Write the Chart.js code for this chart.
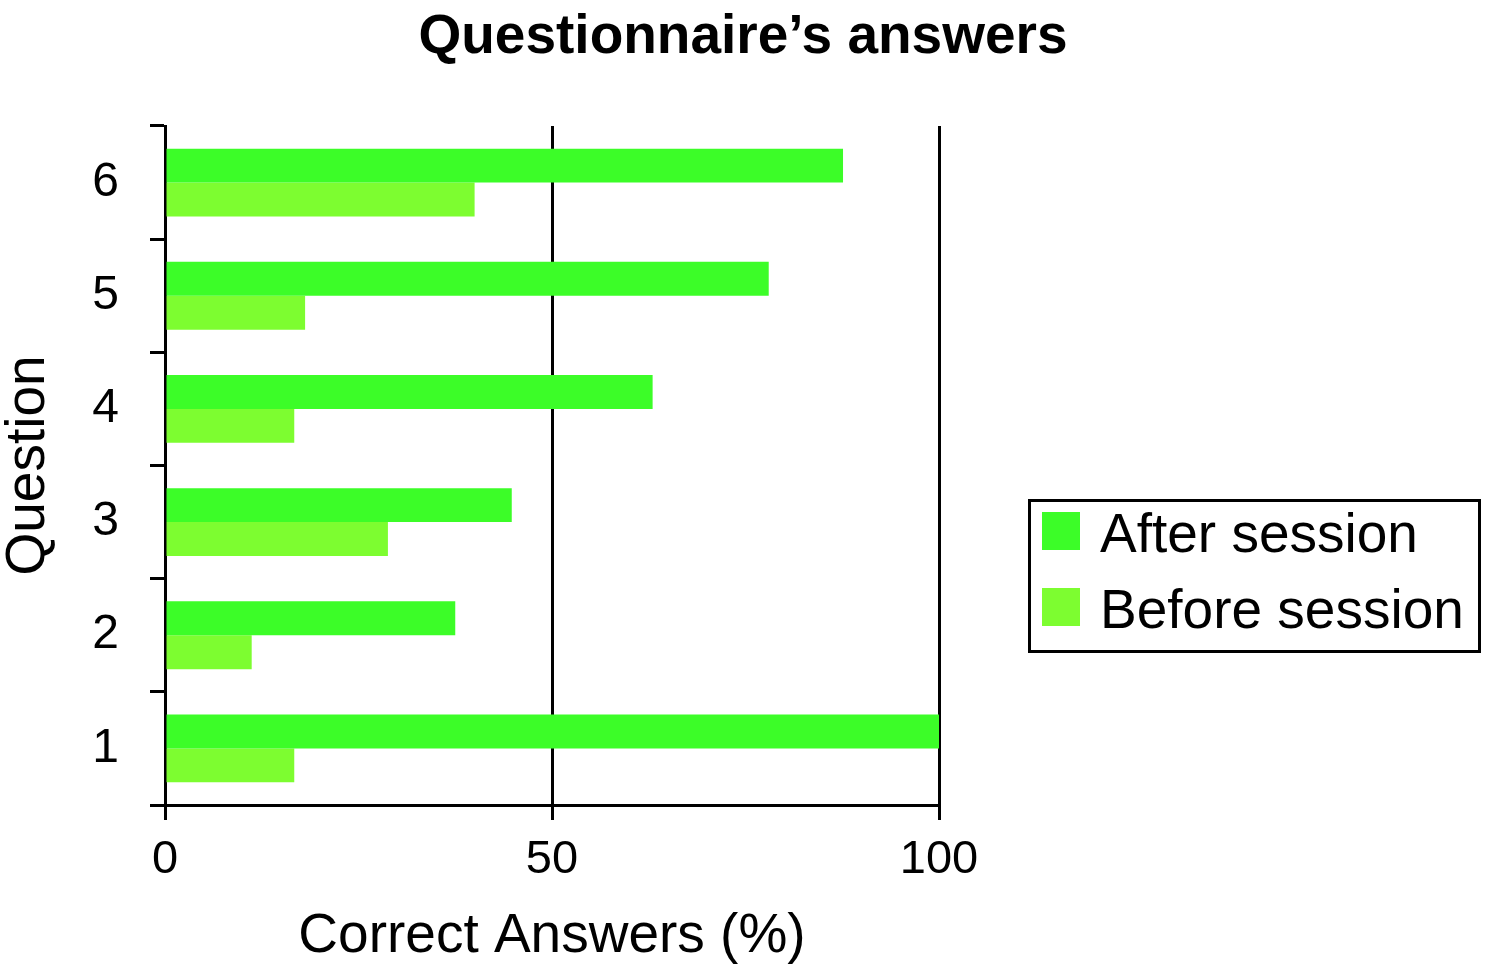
<!DOCTYPE html>
<html>
<head>
<meta charset="utf-8">
<title>Questionnaire's answers</title>
<script src="https://cdn.jsdelivr.net/npm/chart.js@4/dist/chart.umd.min.js"></script>
<style>
	html, body { margin: 0; padding: 0; background: #fff; }
	#wrap { width: 1486px; height: 979px; }
</style>
</head>
<body>
<div id="wrap"><canvas id="questionChart"></canvas></div>
<script>
/* Questionnaire answers - horizontal grouped bars */

const questions = ['6', '5', '4', '3', '2', '1'];
const afterSession = [87.6, 78.0, 63.0, 44.8, 37.5, 100];
const beforeSession = [40.0, 18.1, 16.7, 28.8, 11.2, 16.7];
const xTicks = [0, 50, 100];

const FONT = "'Liberation Sans', Arial, Helvetica, sans-serif";

// Boxed legend on the right, like the original figure
const boxLegend = {
	id: 'boxLegend',
	afterDraw(chart) {
		const ctx = chart.ctx;
		const items = chart.data.datasets;
		ctx.save();
		ctx.lineWidth = 3;
		ctx.strokeStyle = '#000';
		ctx.strokeRect(1029.5, 500.5, 450, 151);
		ctx.font = '55px ' + FONT;
		ctx.textBaseline = 'alphabetic';
		ctx.fillStyle = '#000';
		items.forEach((ds, i) => {
			const rowTop = 512 + i * 76;
			ctx.fillStyle = ds.backgroundColor;
			ctx.fillRect(1042, rowTop, 38, 38);
			ctx.fillStyle = '#000';
			ctx.fillText(ds.label, 1100, rowTop + 40);
		});
		ctx.restore();
	}
};

const ctx = document.getElementById('questionChart').getContext('2d');
new Chart(ctx, {
	type: 'bar',
	data: {
		labels: questions,
		datasets: [{
			label: 'After session',
			data: afterSession,
			backgroundColor: '#3cfd28',
			categoryPercentage: 0.6,
			barPercentage: 1.0
		}, {
			label: 'Before session',
			data: beforeSession,
			backgroundColor: '#7dfd30',
			categoryPercentage: 0.6,
			barPercentage: 1.0
		}]
	},
	options: {
		indexAxis: 'y',
		responsive: true,
		maintainAspectRatio: false,
		animation: false,
		layout: { padding: 0 },
		plugins: {
			legend: { display: false },
			tooltip: { enabled: false },
			title: {
				display: true,
				text: 'Questionnaire\u2019s answers',
				color: '#000',
				font: { family: FONT, size: 55, weight: 'bold', lineHeight: 1 },
				padding: { top: 10, bottom: 61 }
			}
		},
		scales: {
			x: {
				type: 'linear',
				min: 0,
				max: 100,
				afterBuildTicks: (scale) => {
					scale.ticks = xTicks.map(v => ({ value: v }));
				},
				afterFit: (scale) => { scale.height = 174; },
				border: { display: true, color: '#000', width: 3 },
				grid: {
					color: '#000',
					lineWidth: 3,
					tickLength: 15,
					drawOnChartArea: true
				},
				ticks: {
					color: '#000',
					padding: 12,
					font: { family: FONT, size: 47 }
				},
				title: {
					display: true,
					text: 'Correct Answers (%)',
					color: '#000',
					font: { family: FONT, size: 55, lineHeight: 1 },
					padding: { top: 0, bottom: 15 }
				}
			},
			y: {
				type: 'category',
				afterFit: (scale) => { scale.width = 165; },
				border: { display: true, color: '#000', width: 3 },
				grid: {
					color: '#000',
					lineWidth: 3,
					tickLength: 15,
					drawOnChartArea: false,
					offset: true
				},
				ticks: {
					color: '#000',
					padding: 31,
					font: { family: FONT, size: 48 }
				},
				title: {
					display: true,
					text: 'Question',
					color: '#000',
					font: { family: FONT, size: 55, lineHeight: 1 },
					padding: { top: 1, bottom: 0 }
				}
			},
			spacer: {
				// empty right-hand axis that keeps room for the legend box
				type: 'linear',
				position: 'right',
				display: true,
				afterFit: (scale) => { scale.width = 547; },
				border: { display: false },
				grid: { display: false },
				ticks: { display: false }
			}
		}
	},
	plugins: [boxLegend]
});
</script>
</body>
</html>
